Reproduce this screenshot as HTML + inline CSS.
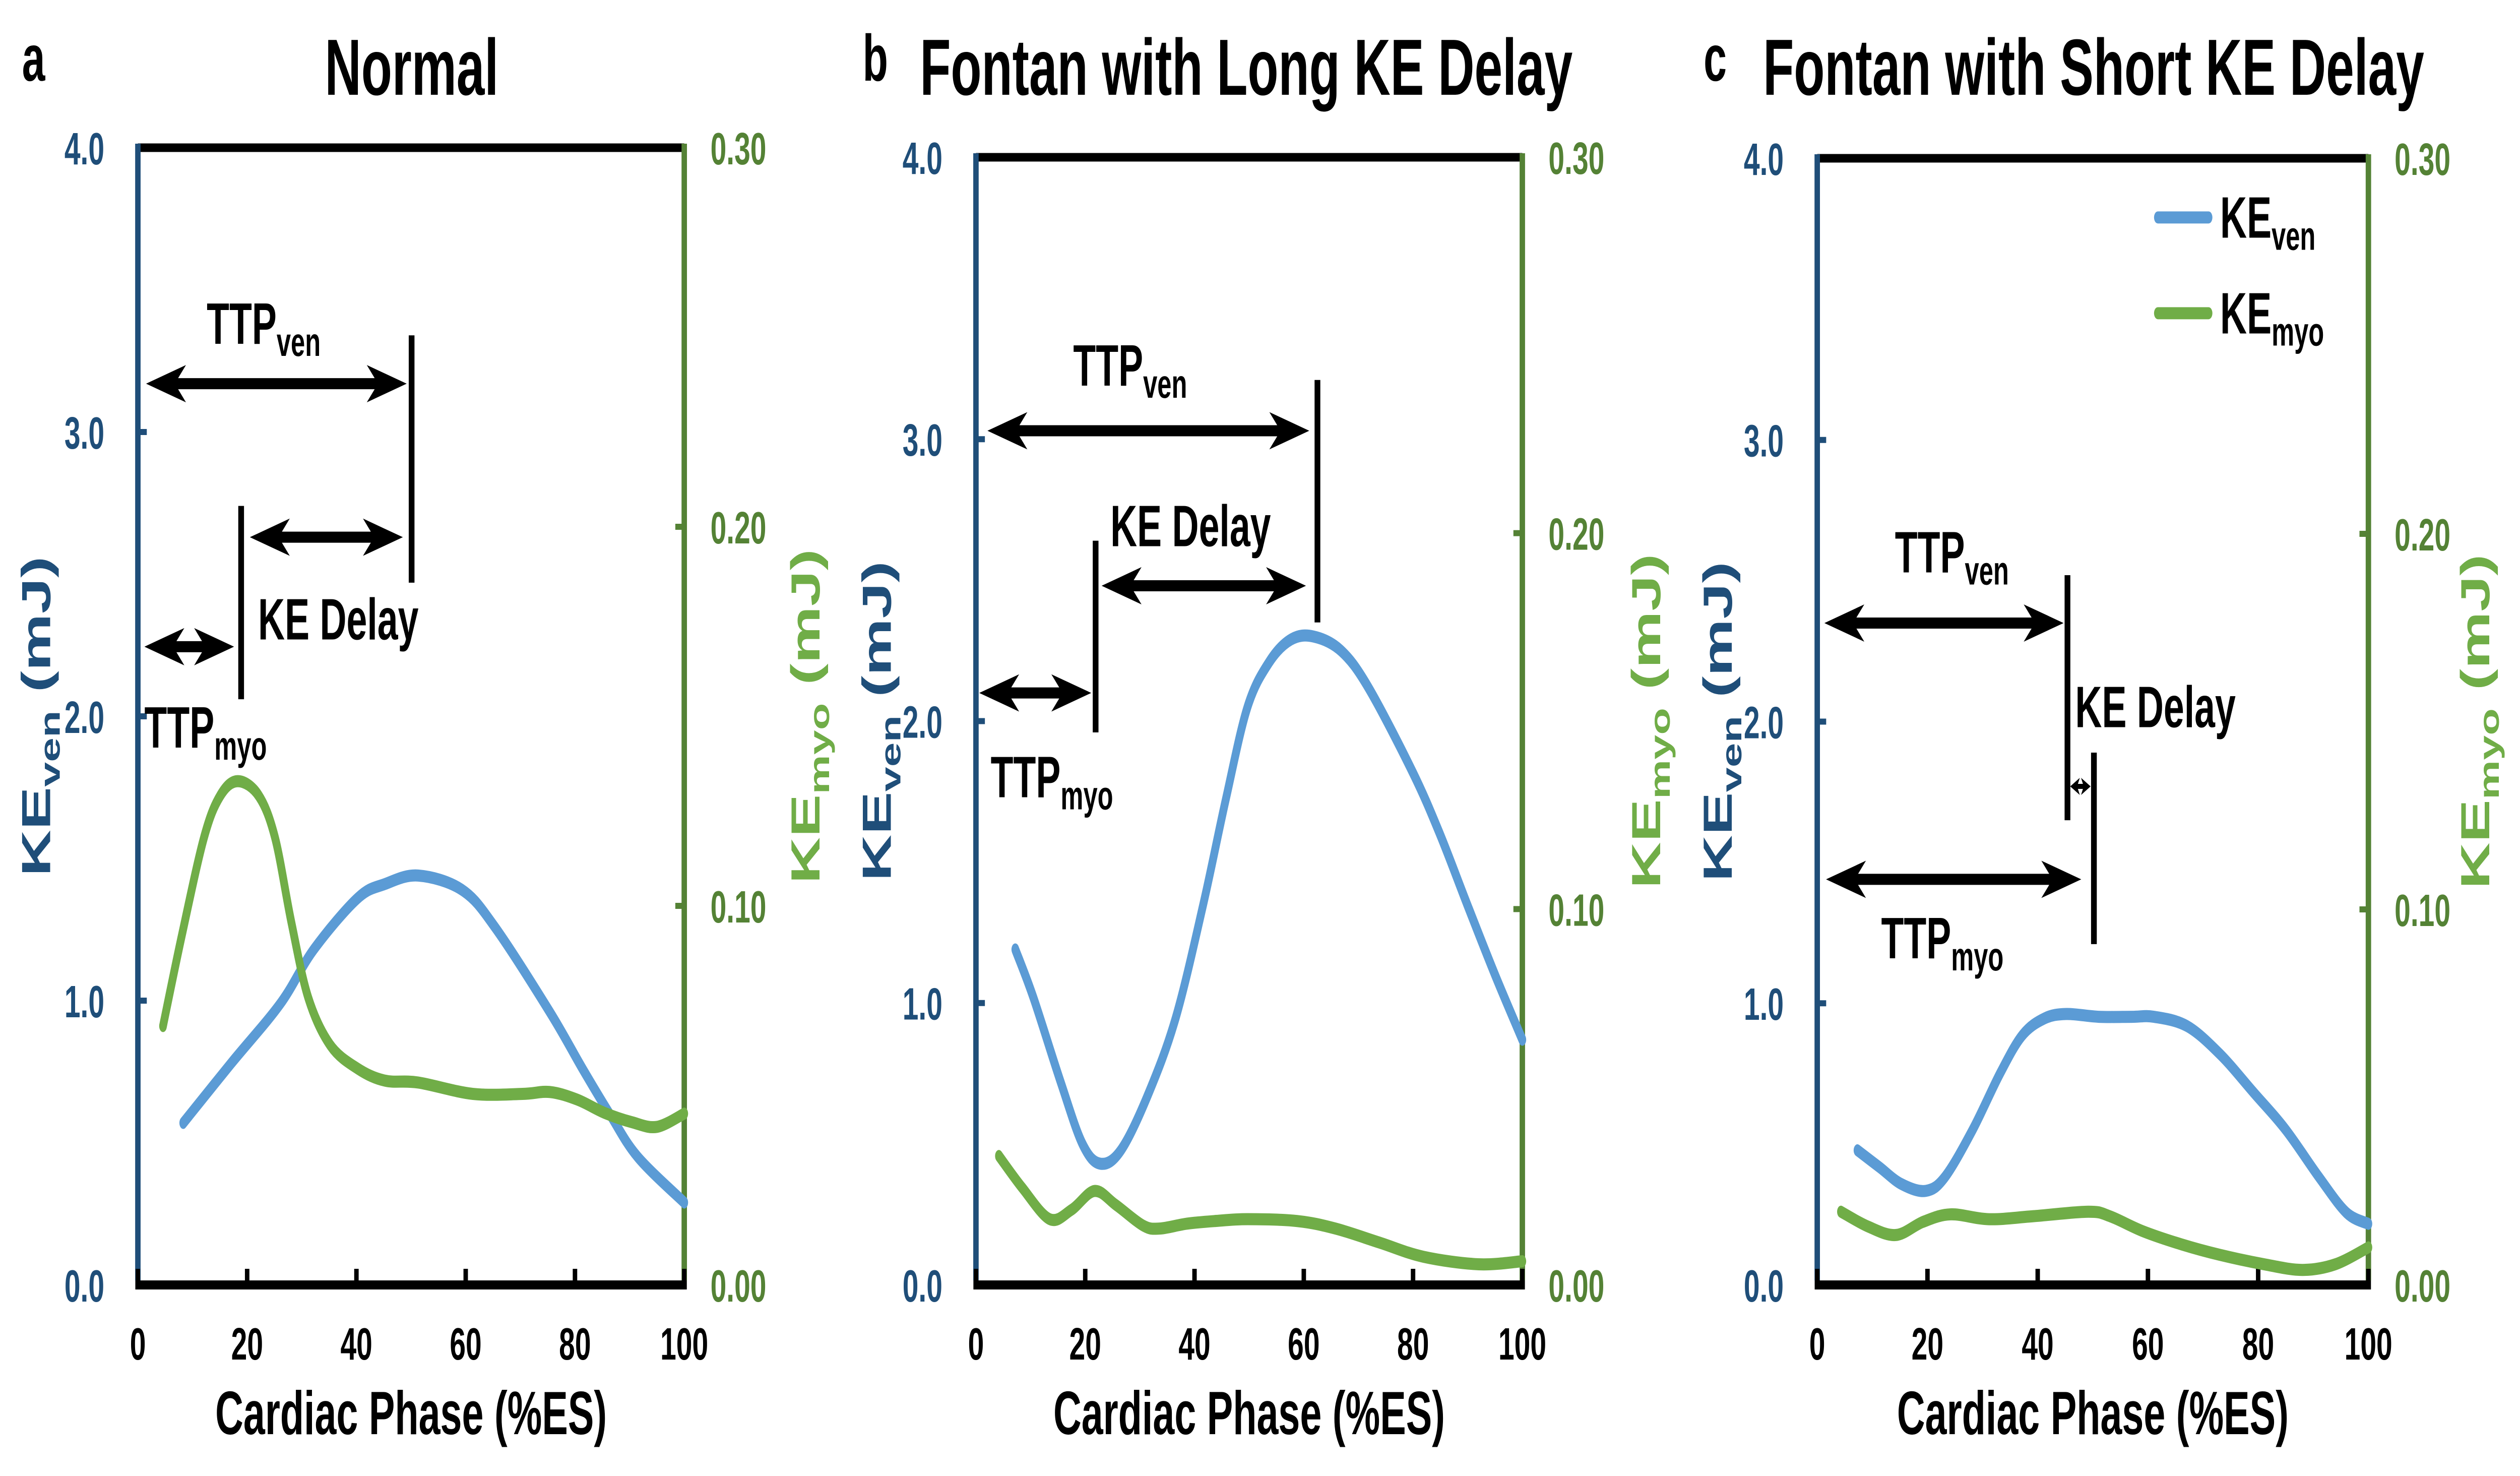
<!DOCTYPE html>
<html><head><meta charset="utf-8"><style>
html,body{margin:0;padding:0;background:#fff;overflow:hidden;width:100%;height:100%;}
svg{display:block;width:100vw;height:100vh;font-family:"Liberation Sans",Arial,sans-serif;font-weight:bold;overflow:hidden;}
</style></head><body>
<svg id="fig" xmlns="http://www.w3.org/2000/svg" viewBox="0 0 7896 2928" preserveAspectRatio="none"></svg>
<script>
// ---- data ----
const panelLetters = ['a','b','c'];
const panelTitles = ['Normal','Fontan with Long KE Delay','Fontan with Short KE Delay'];
const xTicks = [0,20,40,60,80,100];
const leftTicks = [0,1,2,3,4];
const leftTickLabels = ['0.0','1.0','2.0','3.0','4.0'];
const rightTicks = [0,0.1,0.2,0.3];
const rightTickLabels = ['0.00','0.10','0.20','0.30'];

const aVenX = [8.3,17.1,26.1,32.2,40.2,45.2,51.3,59.3,65.3,75.4,81.4,86.4,91.5,100];
const aVenY = [0.57,0.78,0.99,1.18,1.36,1.41,1.44,1.39,1.26,0.96,0.76,0.60,0.45,0.29];
const aMyoX = [4.6,8.0,12.1,15.1,18.3,22.1,25.1,28.1,31.2,35.2,40.2,45.2,51.3,61.3,70.4,75.4,80.4,85.4,90.5,95.0,100];
const aMyoY = [0.0683,0.0919,0.118,0.1291,0.1329,0.1291,0.118,0.0956,0.0757,0.0633,0.0571,0.0539,0.0534,0.0504,0.0504,0.0509,0.0489,0.0454,0.0429,0.0417,0.0452];

const bVenX = [7.2,10.5,15.5,19.5,22.8,26.6,31.6,36.6,41.6,45.7,49.7,53.7,57.7,61.8,66.8,71.8,79.9,84.9,89.9,95.0,100];
const bVenY = [1.19,1.02,0.72,0.50,0.43,0.48,0.68,0.95,1.35,1.72,2.05,2.21,2.29,2.30,2.25,2.12,1.82,1.60,1.35,1.10,0.87];
const bMyoX = [4.2,8.5,13.5,17.5,21.7,25.6,30.6,33.6,38.6,43.7,49.7,58.8,65.8,73.8,81.9,92.0,100];
const bMyoY = [0.0343,0.0258,0.0175,0.0200,0.0250,0.0213,0.0158,0.0150,0.0163,0.0170,0.0175,0.0170,0.0150,0.0113,0.0075,0.0055,0.0063];

const cVenX = [7.3,11.3,15.3,19.7,23.2,28.2,33.2,37.2,41.2,45.2,51.1,57.1,61.1,67.1,73.1,79.1,85.0,91.0,96.0,100];
const cVenY = [0.478,0.418,0.358,0.334,0.384,0.551,0.752,0.886,0.946,0.962,0.952,0.952,0.952,0.919,0.819,0.685,0.551,0.384,0.257,0.217];
const cMyoX = [4.3,9.3,14.3,19.2,24.2,31.2,39.2,49.2,53.1,59.1,66.1,73.1,81.1,88.0,94.0,100];
const cMyoY = [0.0195,0.0155,0.0133,0.0168,0.0188,0.0175,0.0183,0.0195,0.0183,0.0143,0.0108,0.0080,0.0055,0.0040,0.0055,0.0100];

// annotation arrows: [x1,x2,y] in data units ; bars: [x,yTop,yBottom]
const aArrows = [[1.5,49.2,3.17],[20.5,48.5,2.63],[1.2,17.6,2.245]];
const aBars = [[50.1,3.34,2.47],[18.9,2.74,2.06]];
const bArrows = [[2.1,61.0,3.03],[23.0,60.4,2.48],[0.6,21.1,2.10]];
const bBars = [[62.5,3.21,2.35],[21.9,2.64,1.96]];
const cArrows = [[1.3,44.7,2.35],[45.9,49.6,1.77],[1.6,47.9,1.44]];
const cBars = [[45.4,2.52,1.65],[50.2,1.89,1.21]];
</script>
<script>
const NS='http://www.w3.org/2000/svg';
const svg=document.getElementById('fig');
const DARK='#1F4E79', GREEN='#548235', BLUE_L='#5B9BD5', GREEN_L='#70AD47';
function mk(tag,attrs,parent){const e=document.createElementNS(NS,tag);for(const k in attrs)e.setAttribute(k,attrs[k]);(parent||svg).appendChild(e);return e;}
function smooth(pts){
  let d='M'+pts[0][0]+','+pts[0][1];
  for(let i=0;i<pts.length-1;i++){
    const p0=pts[i-1]||pts[i],p1=pts[i],p2=pts[i+1],p3=pts[i+2]||p2;
    const c1=[p1[0]+(p2[0]-p0[0])/6,p1[1]+(p2[1]-p0[1])/6];
    const c2=[p2[0]-(p3[0]-p1[0])/6,p2[1]-(p3[1]-p1[1])/6];
    d+=' C'+c1[0]+','+c1[1]+' '+c2[0]+','+c2[1]+' '+p2[0]+','+p2[1];
  }
  return d;
}
const panels=[
 {x0:432,x1:2144,yT:293,yB:2549,letterX:69,titleX:1290,lt:112,rt:2523,venX:aVenX,venY:aVenY,myoX:aMyoX,myoY:aMyoY,arrows:aArrows,bars:aBars,
  labels:[['TTP','ven',12.6,3.31],['KE Delay','',22.0,2.27],['TTP','myo',1.2,1.89]]},
 {x0:3058,x1:4770,yT:312,yB:2549,letterX:2703,titleX:3905,lt:2746,rt:5157,venX:bVenX,venY:bVenY,myoX:bMyoX,myoY:bMyoY,arrows:bArrows,bars:bBars,
  labels:[['TTP','ven',17.8,3.19],['KE Delay','',24.6,2.62],['TTP','myo',2.7,1.73]]},
 {x0:5694,x1:7421,yT:314,yB:2549,letterX:5338,titleX:6560,lt:5381,rt:7755,venX:cVenX,venY:cVenY,myoX:cMyoX,myoY:cMyoY,arrows:cArrows,bars:cBars,
  labels:[['TTP','ven',14.1,2.53],['KE Delay','',46.8,1.98],['TTP','myo',11.6,1.16]]}
];
panels.forEach((P,pi)=>{
  const g=mk('g',{});
  
  
  const X=v=>P.x0+(P.x1-P.x0)*v/100;
  const YL=v=>P.yB-(P.yB-P.yT)*v/4;
  const YR=v=>P.yB-(P.yB-P.yT)*v/0.3;
  const lt=mk('text',{x:P.letterX,y:160,'font-size':130},g);lt.textContent=panelLetters[pi];
  
  const tt=mk('text',{x:P.titleX,y:188,'font-size':158,'text-anchor':'middle'},g);tt.textContent=panelTitles[pi];
  
  const top=mk('line',{x1:P.x0,y1:P.yT,x2:P.x1,y2:P.yT,stroke:'#000','stroke-width':17},g);
  
  const xa=mk('line',{x1:P.x0-8,y1:P.yB,x2:P.x1+8,y2:P.yB,stroke:'#000','stroke-width':18},g);
  
  const la=mk('line',{x1:P.x0,y1:P.yT-8,x2:P.x0,y2:P.yB-9,stroke:DARK,'stroke-width':17},g);
  
  const ra=mk('line',{x1:P.x1,y1:P.yT-8,x2:P.x1,y2:P.yB-9,stroke:GREEN,'stroke-width':17},g);
  
  xTicks.forEach(t=>{
    const tk=mk('line',{x1:X(t),y1:P.yB,x2:X(t),y2:P.yB-32,stroke:'#000','stroke-width':14},g);
    
    const tl=mk('text',{x:X(t),y:P.yB+148,'font-size':90,'text-anchor':'middle'},g);tl.textContent=t;
    
  });
  leftTicks.forEach((t,i)=>{
    if(t>0&&t<4){const tk=mk('line',{x1:P.x0,y1:YL(t),x2:P.x0+28,y2:YL(t),stroke:DARK,'stroke-width':12},g);
    }
    const tl=mk('text',{x:P.x0-105,y:YL(t)+33,'font-size':90,'text-anchor':'end',fill:DARK},g);tl.textContent=leftTickLabels[i];
    
  });
  rightTicks.forEach((t,i)=>{
    if(t>0&&t<0.3){const tk=mk('line',{x1:P.x1,y1:YR(t),x2:P.x1-28,y2:YR(t),stroke:GREEN,'stroke-width':12},g);
    }
    const tl=mk('text',{x:P.x1+82,y:YR(t)+33,'font-size':90,fill:GREEN},g);tl.textContent=rightTickLabels[i];
    
  });
  const xt=mk('text',{x:(P.x0+P.x1)/2,y:2845,'font-size':122,'text-anchor':'middle'},g);xt.textContent='Cardiac Phase (%ES)';
  
  const cy=(P.yT+P.yB)/2;
  const yl=mk('text',{x:0,y:0,'font-size':128,fill:DARK,'text-anchor':'middle',transform:`translate(${P.lt+45},${cy}) rotate(-90)`},g);
  yl.innerHTML='KE<tspan font-size="88" dy="30">ven</tspan><tspan dy="-30"> (mJ)</tspan>';
  
  const yr=mk('text',{x:0,y:0,'font-size':128,fill:GREEN_L,'text-anchor':'middle',transform:`translate(${P.rt+45},${cy}) rotate(-90)`},g);
  yr.innerHTML='KE<tspan font-size="88" dy="30">myo</tspan><tspan dy="-30"> (mJ)</tspan>';
  
  const ven=mk('path',{d:smooth(P.venX.map((x,i)=>[X(x),YL(P.venY[i])])),fill:'none',stroke:BLUE_L,'stroke-width':24,'stroke-linecap':'round','stroke-linejoin':'round'},g);
  
  const myo=mk('path',{d:smooth(P.myoX.map((x,i)=>[X(x),YR(P.myoY[i])])),fill:'none',stroke:GREEN_L,'stroke-width':24,'stroke-linecap':'round','stroke-linejoin':'round'},g);
  
  P.bars.forEach(b=>{
    const l=mk('line',{x1:X(b[0]),y1:YL(b[1]),x2:X(b[0]),y2:YL(b[2]),stroke:'#000','stroke-width':18},g);
    
  });
  P.arrows.forEach(a=>{
    const x1=X(a[0]),x2=X(a[1]),y=YL(a[2]);
    const small=(x2-x1)<150;
    const L=small?30:125,H=small?17:37,sw=small?10:22;
    const ag=mk('g',{},g);
    
    mk('line',{x1:x1+L*0.6,y1:y,x2:x2-L*0.6,y2:y,stroke:'#000','stroke-width':sw},ag);
    mk('polygon',{points:`${x1},${y} ${x1+L},${y-H} ${x1+L*0.72},${y} ${x1+L},${y+H}`,fill:'#000'},ag);
    mk('polygon',{points:`${x2},${y} ${x2-L},${y-H} ${x2-L*0.72},${y} ${x2-L},${y+H}`,fill:'#000'},ag);
  });
  P.labels.forEach(l=>{
    const t=mk('text',{x:X(l[2]),y:YL(l[3]),'font-size':116},g);
    t.innerHTML=l[0]+(l[1]?'<tspan font-size="80" dy="24">'+l[1]+'</tspan>':'');
    
  });
  if(pi===2){
    const lg=mk('g',{},g);
    
    const e1=mk('line',{x1:X(61.8),y1:YL(3.79),x2:X(71.0),y2:YL(3.79),stroke:BLUE_L,'stroke-width':24,'stroke-linecap':'round'},lg);
    
    const t1=mk('text',{x:X(73.1),y:YL(3.79)+40,'font-size':116},lg);
    t1.innerHTML='KE<tspan font-size="80" dy="24">ven</tspan>';
    
    const e2=mk('line',{x1:X(61.8),y1:YL(3.45),x2:X(71.0),y2:YL(3.45),stroke:GREEN_L,'stroke-width':24,'stroke-linecap':'round'},lg);
    
    const t2=mk('text',{x:X(73.1),y:YL(3.45)+40,'font-size':116},lg);
    t2.innerHTML='KE<tspan font-size="80" dy="24">myo</tspan>';
    
  }
});
</script>
</body></html>
